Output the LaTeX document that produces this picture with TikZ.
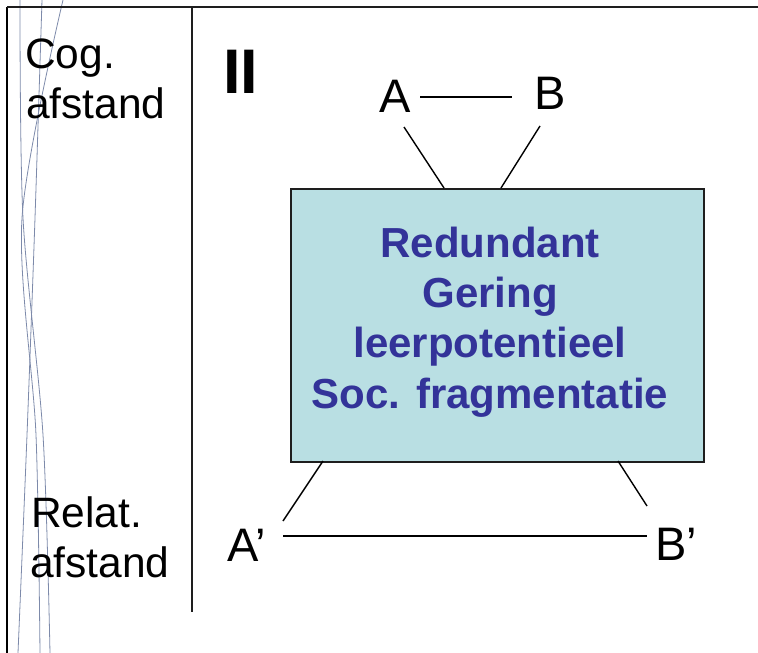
\documentclass[tikz,border=0pt]{standalone}
\usepackage{fontspec}
\setmainfont{Liberation Sans}
\definecolor{boxfill}{RGB}{185,223,227}
\definecolor{boxtext}{RGB}{51,51,153}
\definecolor{decoline}{RGB}{125,138,170}
\definecolor{frameline}{RGB}{30,30,30}
\begin{document}
\begin{tikzpicture}[x=1pt,y=-1pt,
  sidelbl/.style={inner sep=0pt, anchor=base west, font=\fontsize{42.5}{50}\selectfont},
  letter/.style={inner sep=0pt, anchor=base west, font=\fontsize{47}{50}\selectfont},
  boxline/.style={inner sep=0pt, anchor=base, text=boxtext, font=\fontsize{42}{50}\selectfont\bfseries},
  conn/.style={line width=1.4pt, black},
  deco/.style={line width=0.8pt, decoline},
  frame/.style={line width=1.6pt, frameline}]
\useasboundingbox (0,0) rectangle (758,653);
% decorative curves
\draw[deco] plot[smooth, tension=0.5] coordinates {(20,0) (23,218) (43,435) (50,653)};
\draw[deco] plot[smooth, tension=0.5] coordinates {(63,0) (22,218) (36,435) (40,653)};
\draw[deco] plot[smooth, tension=0.5] coordinates {(42,0) (35,218) (27,435) (18,653)};
% frame lines
\coordinate (tl) at (7,7);
\coordinate (tr) at (758,7);
\coordinate (bl) at (7,653);
\coordinate (dtop) at (192,7);
\coordinate (dbot) at (192,612);
\draw[frame, line width=2.4pt, black] (bl) -- (tl);
\draw[frame] (tl) -- (tr);
\draw[frame] (dtop) -- (dbot);
% side labels
\node[sidelbl] (cog1) at (25,68) {Cog.};
\node[sidelbl] (cog2) at (26,118) {afstand};
\node[sidelbl] (rel1) at (31,527) {Relat.};
\node[sidelbl] (rel2) at (30,577) {afstand};
% roman numeral
\node[inner sep=0pt, anchor=base west, font=\fontsize{63}{70}\selectfont\bfseries] (num) at (223,93) {II};
% central box
\node[draw=frameline, line width=1.6pt, fill=boxfill, minimum width=413pt, minimum height=273pt, inner sep=0pt, anchor=north west] (box) at (290,188) {};
\node[boxline] (t1) at (490,257) {Redundant};
\node[boxline] (t2) at (490,307) {Gering};
\node[boxline] (t3) at (490,357) {leerpotentieel};
\node[boxline] (t4) at (490,408) {Soc. fragmentatie};
% letters
\node[letter] (A) at (379,112) {A};
\node[letter] (B) at (534,109) {B};
\node[letter] (Ap) at (227,561) {A’};
\node[letter] (Bp) at (655,560) {B’};
% connector end points
\coordinate (abl) at (420,97);
\coordinate (abr) at (512,97);
\coordinate (aDown) at (404,127);
\coordinate (boxA) at (444,188);
\coordinate (bDown) at (540,126);
\coordinate (boxB) at (501,188);
\coordinate (boxAp) at (323,461);
\coordinate (apUp) at (283,521);
\coordinate (boxBp) at (618,461);
\coordinate (bpUp) at (647,506);
\coordinate (apbl) at (283,536);
\coordinate (apbr) at (647,536);
\draw[conn] (abl) -- (abr);
\draw[conn] (aDown) -- (boxA);
\draw[conn] (bDown) -- (boxB);
\draw[conn] (boxAp) -- (apUp);
\draw[conn] (boxBp) -- (bpUp);
\draw[conn] (apbl) -- (apbr);
\end{tikzpicture}
\end{document}
